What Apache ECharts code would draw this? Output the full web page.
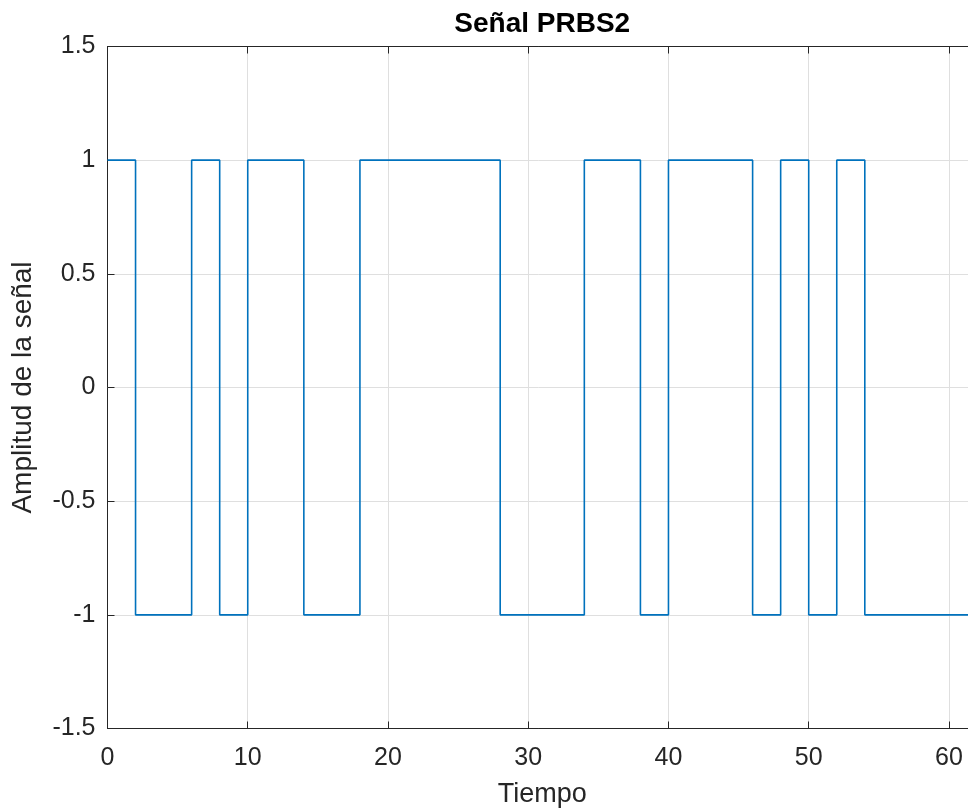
<!DOCTYPE html>
<html>
<head>
<meta charset="utf-8">
<script src="https://cdn.jsdelivr.net/npm/echarts@6/dist/echarts.min.js"></script>
<style>
  html, body { margin: 0; padding: 0; background: #fff; }
  #chart { width: 968px; height: 812px; }
</style>
</head>
<body>
<div id="chart"></div>
<script>
// muestras de la señal PRBS (cada 2 unidades de tiempo)
const tiempo = [0, 2, 4, 6, 8, 10, 12, 14, 16, 18, 20, 22, 24, 26, 28, 30,
                32, 34, 36, 38, 40, 42, 44, 46, 48, 50, 52, 54, 56, 58, 60, 62];
const amplitud = [1, -1, -1, 1, -1, 1, 1, -1, -1, 1, 1, 1, 1, 1, -1, -1,
                  -1, 1, 1, -1, 1, 1, 1, -1, 1, -1, 1, -1, -1, -1, -1, -1];
const xTicks = [0, 10, 20, 30, 40, 50, 60];
const yTicks = [-1.5, -1, -0.5, 0, 0.5, 1, 1.5];

const fuente = 'Liberation Sans, Arial, Helvetica, sans-serif';
const gris = '#262626';

const chart = echarts.init(document.getElementById('chart'));
chart.setOption({
  animation: false,
  grid: { left: 107.5, top: 46.5, height: 682, width: 869.5, outerBoundsMode: 'none', containLabel: false },
  xAxis: [{
    type: 'value',
    min: 0,
    max: 62,
    interval: 10,
    name: 'Tiempo',
    nameLocation: 'middle',
    nameGap: 53,
    nameTextStyle: { fontSize: 27, color: gris, fontFamily: fuente },
    axisLine: { onZero: false, lineStyle: { color: gris, width: 1 } },
    axisTick: { inside: true, length: 7, lineStyle: { color: gris } },
    axisLabel: {
      fontSize: 25, color: gris, fontFamily: fuente, margin: 17,
      showMaxLabel: false,
      formatter: v => xTicks.indexOf(v) >= 0 ? String(v) : ''
    },
    splitLine: { show: true, lineStyle: { color: '#dfdfdf', width: 1 } }
  }, {
    type: 'value',
    position: 'top',
    min: 0,
    max: 62,
    interval: 10,
    name: 'Señal PRBS2',
    nameLocation: 'middle',
    nameGap: 8,
    nameTextStyle: { fontSize: 28, fontWeight: 'bold', color: '#000', fontFamily: fuente },
    axisLine: { show: true, onZero: false, lineStyle: { color: gris, width: 1 } },
    axisTick: { inside: true, length: 7, lineStyle: { color: gris } },
    axisLabel: { show: false },
    splitLine: { show: false }
  }],
  yAxis: {
    type: 'value',
    min: -1.5,
    max: 1.5,
    interval: 0.5,
    name: 'Amplitud de la señal',
    nameLocation: 'middle',
    nameGap: 70,
    nameTextStyle: { fontSize: 28, color: gris, fontFamily: fuente },
    axisLine: { show: true, onZero: false, lineStyle: { color: gris, width: 1 } },
    axisTick: { show: true, inside: true, length: 7, lineStyle: { color: gris } },
    axisLabel: {
      fontSize: 25, color: gris, fontFamily: fuente, margin: 12,
      formatter: v => yTicks.indexOf(v) >= 0 ? String(v) : ''
    },
    splitLine: { show: true, lineStyle: { color: '#dfdfdf', width: 1 } }
  },
  series: [{
    type: 'line',
    step: 'end',
    xAxisIndex: 0,
    data: tiempo.map((t, i) => [t, amplitud[i]]),
    showSymbol: false,
    lineStyle: { color: '#0072BD', width: 1.6 },
    clip: true
  }]
});
</script>
</body>
</html>
